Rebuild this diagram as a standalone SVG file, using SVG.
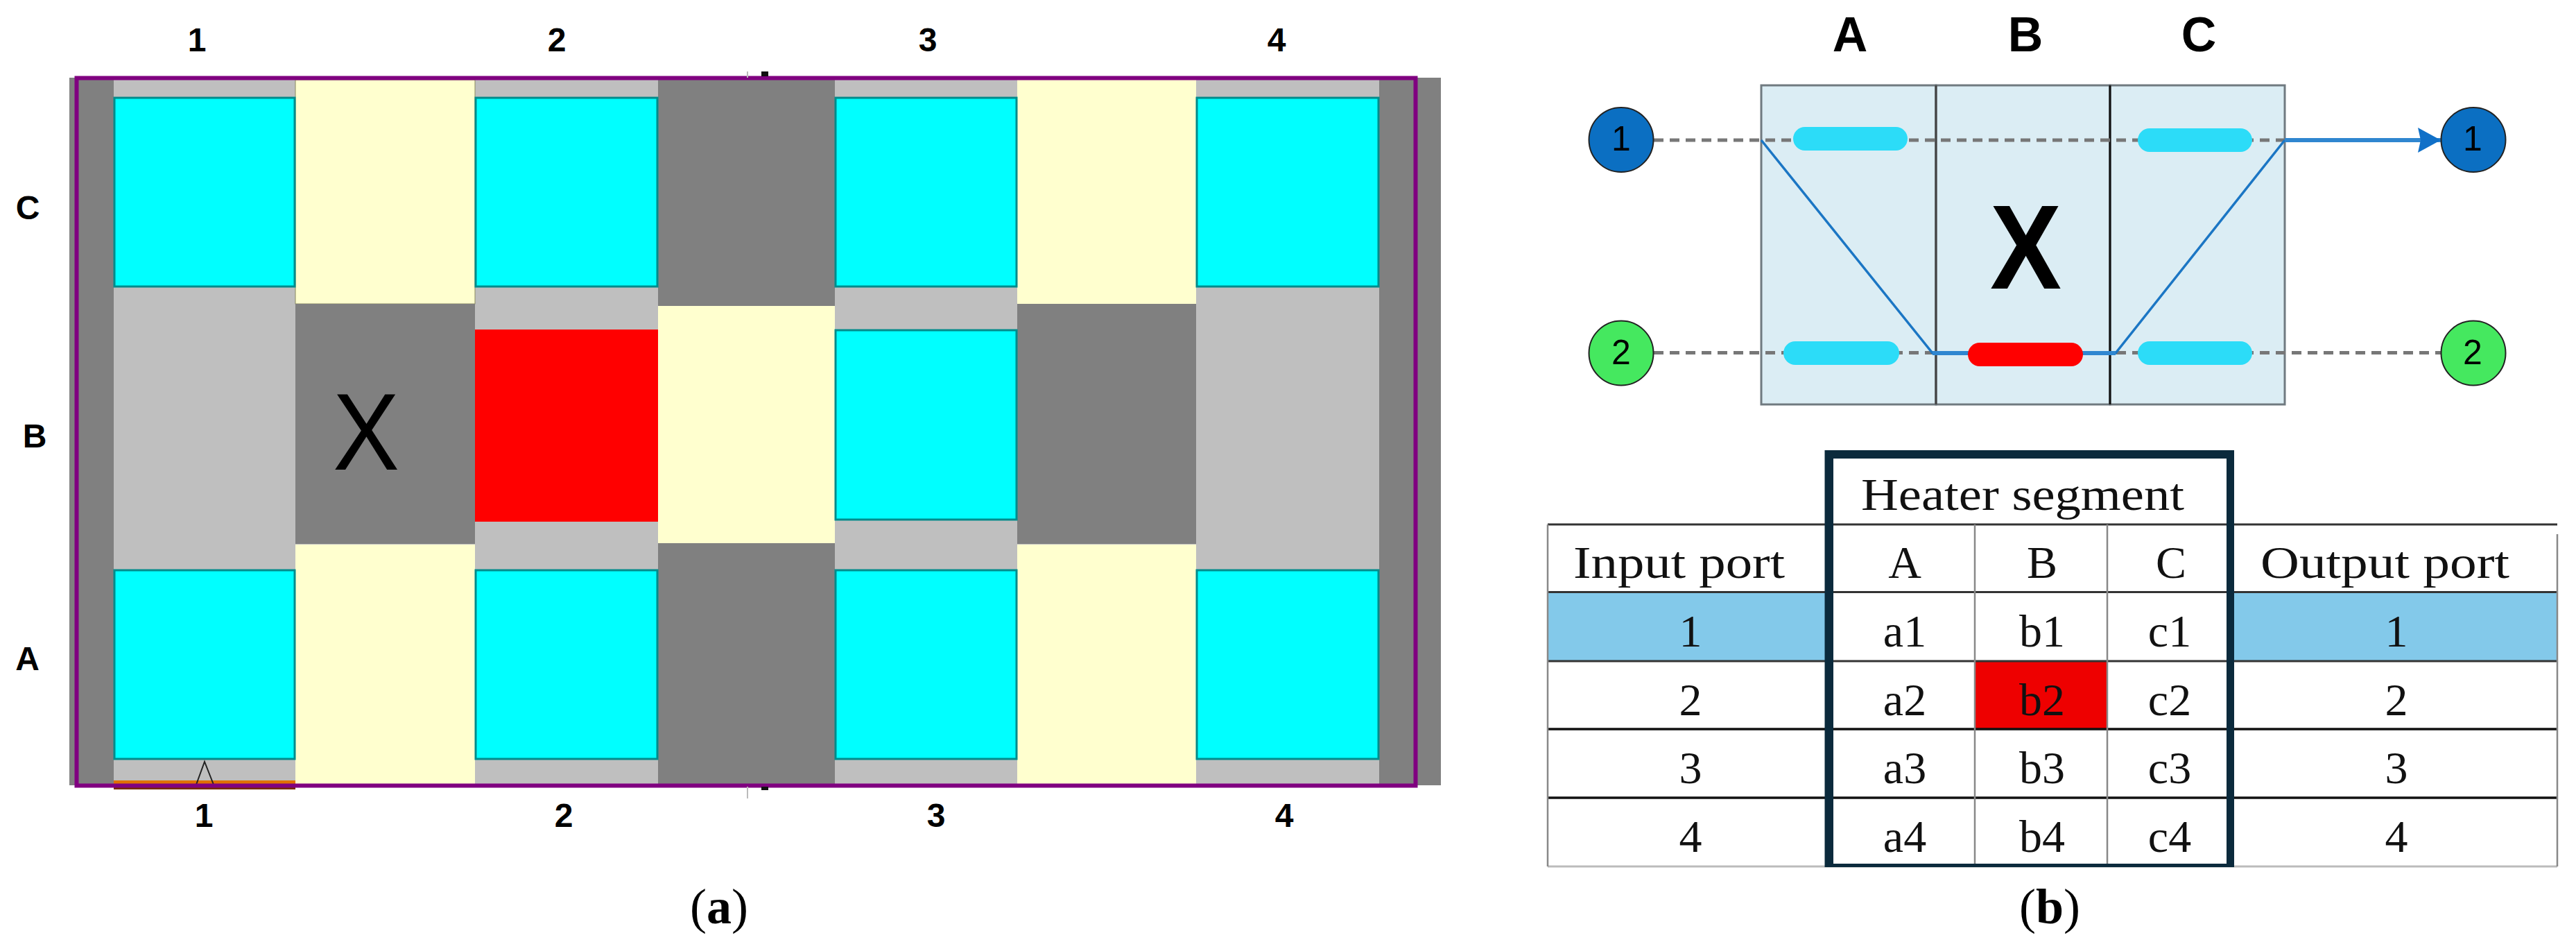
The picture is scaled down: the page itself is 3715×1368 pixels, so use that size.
<svg xmlns="http://www.w3.org/2000/svg" width="3715" height="1368" viewBox="0 0 3715 1368">
<style>
.dk{fill:#808080}.lt{fill:#bfbfbf}.yl{fill:#ffffcf}.rd{fill:#ff0000}
.cy{fill:#00ffff;stroke:#008b8b;stroke-width:3}
.lb{font-family:"Liberation Sans",Arial,sans-serif;font-weight:700;font-size:48px;fill:#000;text-anchor:middle}
.big{font-family:"Liberation Sans",Arial,sans-serif;font-weight:700;font-size:70px;fill:#000;text-anchor:middle}
.pn{font-family:"Liberation Sans",Arial,sans-serif;font-size:50px;fill:#000;text-anchor:middle}
.t{font-family:"Liberation Serif","Times New Roman",serif;font-size:66px;fill:#111;text-anchor:middle}
.cap{font-family:"Liberation Serif","Times New Roman",serif;font-size:72px;fill:#000;text-anchor:middle}
.pill{fill:#2cdcf8}
.seg{fill:#dbedf4;stroke:#707a80;stroke-width:3}
.dash{fill:none;stroke:#777;stroke-width:5;stroke-dasharray:14 9}
.port{stroke:#222;stroke-width:2}
.hl{stroke:#333;stroke-width:3;fill:none}
.vl{stroke:#888;stroke-width:2.5;fill:none}
</style>
<defs>
<marker id="arrow" markerUnits="userSpaceOnUse" markerWidth="34" markerHeight="36" refX="33" refY="18" orient="auto"><path d="M0 0L33 18L0 36L4 18Z" fill="#1070c8"/></marker>
</defs>
<rect width="3715" height="1368" fill="#fff"/>

<g id="panel-a">
<rect class="dk" x="100" y="112" width="1978" height="1020"/>
<rect class="lt" x="164" y="115" width="1825" height="1015"/>
<rect class="dk" x="949" y="115" width="255" height="1017"/>
<rect class="yl" x="426" y="115" width="259" height="323" stroke="#8a8a60" stroke-width="1"/>
<rect class="yl" x="1467" y="115" width="258" height="323"/>
<rect class="dk" x="426" y="438" width="259" height="346"/>
<rect class="dk" x="1467" y="438" width="258" height="346"/>
<rect class="yl" x="949" y="441" width="255" height="342"/>
<rect class="yl" x="426" y="785" width="259" height="345"/>
<rect class="yl" x="1467" y="785" width="258" height="345"/>
<rect class="rd" x="685" y="475" width="264" height="277"/>
<rect class="cy" x="165" y="141" width="260" height="272"/>
<rect class="cy" x="686" y="141" width="262" height="272"/>
<rect class="cy" x="1205" y="141" width="261" height="272"/>
<rect class="cy" x="1726" y="141" width="262" height="272"/>
<rect class="cy" x="1205" y="476" width="261" height="273"/>
<rect class="cy" x="165" y="822" width="260" height="272"/>
<rect class="cy" x="686" y="822" width="262" height="272"/>
<rect class="cy" x="1205" y="822" width="261" height="272"/>
<rect class="cy" x="1726" y="822" width="262" height="272"/>
<rect x="164" y="1125" width="262" height="7" fill="#e07000"/>
<rect x="164" y="1132" width="262" height="6" fill="#7a2a00"/>
<path d="M283 1131L295 1098L308 1131" fill="none" stroke="#222" stroke-width="2"/>
<rect x="110.500" y="112.500" width="1931" height="1020" fill="none" stroke="#800080" stroke-width="6"/>
<path d="M1078 103V112M1078 1134V1151" stroke="#bbb" stroke-width="2"/>
<rect x="1098" y="103" width="10" height="7" fill="#111"/>
<rect x="1098" y="1134" width="10" height="5" fill="#111"/>
<text x="528" y="677" font-family="'Liberation Sans',Arial,sans-serif" font-size="157" text-anchor="middle" textLength="96" lengthAdjust="spacingAndGlyphs">X</text>
<text class="lb" x="284" y="74">1</text><text class="lb" x="803" y="74">2</text><text class="lb" x="1338" y="74">3</text><text class="lb" x="1841" y="74">4</text>
<text class="lb" x="294" y="1192">1</text><text class="lb" x="813" y="1192">2</text><text class="lb" x="1350" y="1192">3</text><text class="lb" x="1852" y="1192">4</text>
<text class="lb" x="40" y="316">C</text><text class="lb" x="50" y="645">B</text><text class="lb" x="39.500" y="966">A</text>
<text class="cap" x="1037" y="1331">(<tspan font-weight="700">a</tspan>)</text>
</g>

<g id="segments">
<rect class="seg" x="2540" y="123" width="252" height="460"/>
<rect class="seg" x="2792" y="123" width="251" height="460"/>
<rect class="seg" x="3043" y="123" width="252" height="460"/>
<path d="M2792 123V583" stroke="#444" stroke-width="3"/>
<path d="M3043 123V583" stroke="#111" stroke-width="3"/>
</g>

<g id="connectors">
<path class="dash" d="M2385 202H3295"/>
<path class="dash" d="M2385 508.500H3520"/>
<path d="M2540 202L2787 509H3051L3295 202" fill="none" stroke="#1b76c4" stroke-width="3.500"/>
<path d="M2787 509H3051" fill="none" stroke="#2f86d0" stroke-width="6"/>
<path d="M3295 202H3520" fill="none" stroke="#2f86d0" stroke-width="6" marker-end="url(#arrow)"/>
</g>

<g id="heaters">
<rect class="pill" x="2586" y="183" width="165" height="34" rx="17"/>
<rect class="pill" x="3083" y="185" width="165" height="34" rx="17"/>
<rect class="pill" x="2572" y="492" width="167" height="34" rx="17"/>
<rect class="pill" x="3083" y="492" width="165" height="34" rx="17"/>
<rect x="2838" y="494" width="166" height="34" rx="17" fill="#ff0000"/>
</g>
<g id="in1"><circle class="port" cx="2338" cy="201.500" r="46.500" fill="#0b6fc2" stroke="none"/><text class="pn" x="2338" y="217">1</text></g>
<g id="in2"><circle class="port" cx="2338" cy="509" r="46.500" fill="#45e85f"/><text class="pn" x="2338" y="525">2</text></g>
<g id="out1"><circle class="port" cx="3567" cy="201.500" r="46.500" fill="#0b6fc2"/><text class="pn" x="3566" y="217">1</text></g>
<g id="out2"><circle class="port" cx="3567" cy="509" r="46.500" fill="#45e85f"/><text class="pn" x="3566" y="525">2</text></g>
<g id="panel-b-labels">
<text class="big" x="2668" y="74">A</text><text class="big" x="2921" y="74">B</text><text class="big" x="3171" y="74">C</text>
<text x="2921.500" y="416" font-family="'Liberation Sans',Arial,sans-serif" font-weight="700" font-size="172" text-anchor="middle" textLength="103" lengthAdjust="spacingAndGlyphs">X</text>
</g>

<g id="table">
<rect x="2232" y="853" width="1456" height="100" fill="#83c9ea"/>
<rect x="2638" y="853" width="579" height="100" fill="#fff"/>
<rect x="2848" y="953" width="191" height="98" fill="#ee0000"/>
<path class="hl" d="M2232 756H3688"/>
<path class="hl" d="M2232 853.500H3688"/>
<path class="hl" d="M2232 953H3688"/>
<path d="M2232 1051H3688M2232 1150H3688" stroke="#111" stroke-width="3.500"/>
<path d="M2232 1249H3688" stroke="#bbb" stroke-width="3"/>
<path class="vl" d="M2232 756V1249M3688 770V1249"/>
<path class="vl" d="M2848 756V1249M3039 756V1249"/>
<path d="M2631.500 649H3222V1250H2631.500ZM2644 661V1245H3211V661Z" fill="#0b2a3c" fill-rule="evenodd"/>
<text class="t" x="2917" y="734.500" textLength="466" lengthAdjust="spacingAndGlyphs">Heater segment</text>
<text class="t" x="2421.500" y="833" textLength="305" lengthAdjust="spacingAndGlyphs">Input port</text>
<text class="t" x="3439.500" y="833" textLength="359" lengthAdjust="spacingAndGlyphs">Output port</text>
<text class="t" x="2747" y="833">A</text><text class="t" x="2945" y="833">B</text><text class="t" x="3131" y="833">C</text>
<text class="t" x="2438" y="932">1</text><text class="t" x="2747" y="932">a1</text><text class="t" x="2945" y="932">b1</text><text class="t" x="3129" y="932">c1</text><text class="t" x="3456" y="932">1</text>
<text class="t" x="2438" y="1030.500">2</text><text class="t" x="2747" y="1030.500">a2</text><text class="t" x="2945" y="1030.500">b2</text><text class="t" x="3129" y="1030.500">c2</text><text class="t" x="3456" y="1030.500">2</text>
<text class="t" x="2438" y="1129">3</text><text class="t" x="2747" y="1129">a3</text><text class="t" x="2945" y="1129">b3</text><text class="t" x="3129" y="1129">c3</text><text class="t" x="3456" y="1129">3</text>
<text class="t" x="2438" y="1228">4</text><text class="t" x="2747" y="1228">a4</text><text class="t" x="2945" y="1228">b4</text><text class="t" x="3129" y="1228">c4</text><text class="t" x="3456" y="1228">4</text>
<text class="cap" x="2956" y="1331">(<tspan font-weight="700">b</tspan>)</text>
</g>
</svg>
